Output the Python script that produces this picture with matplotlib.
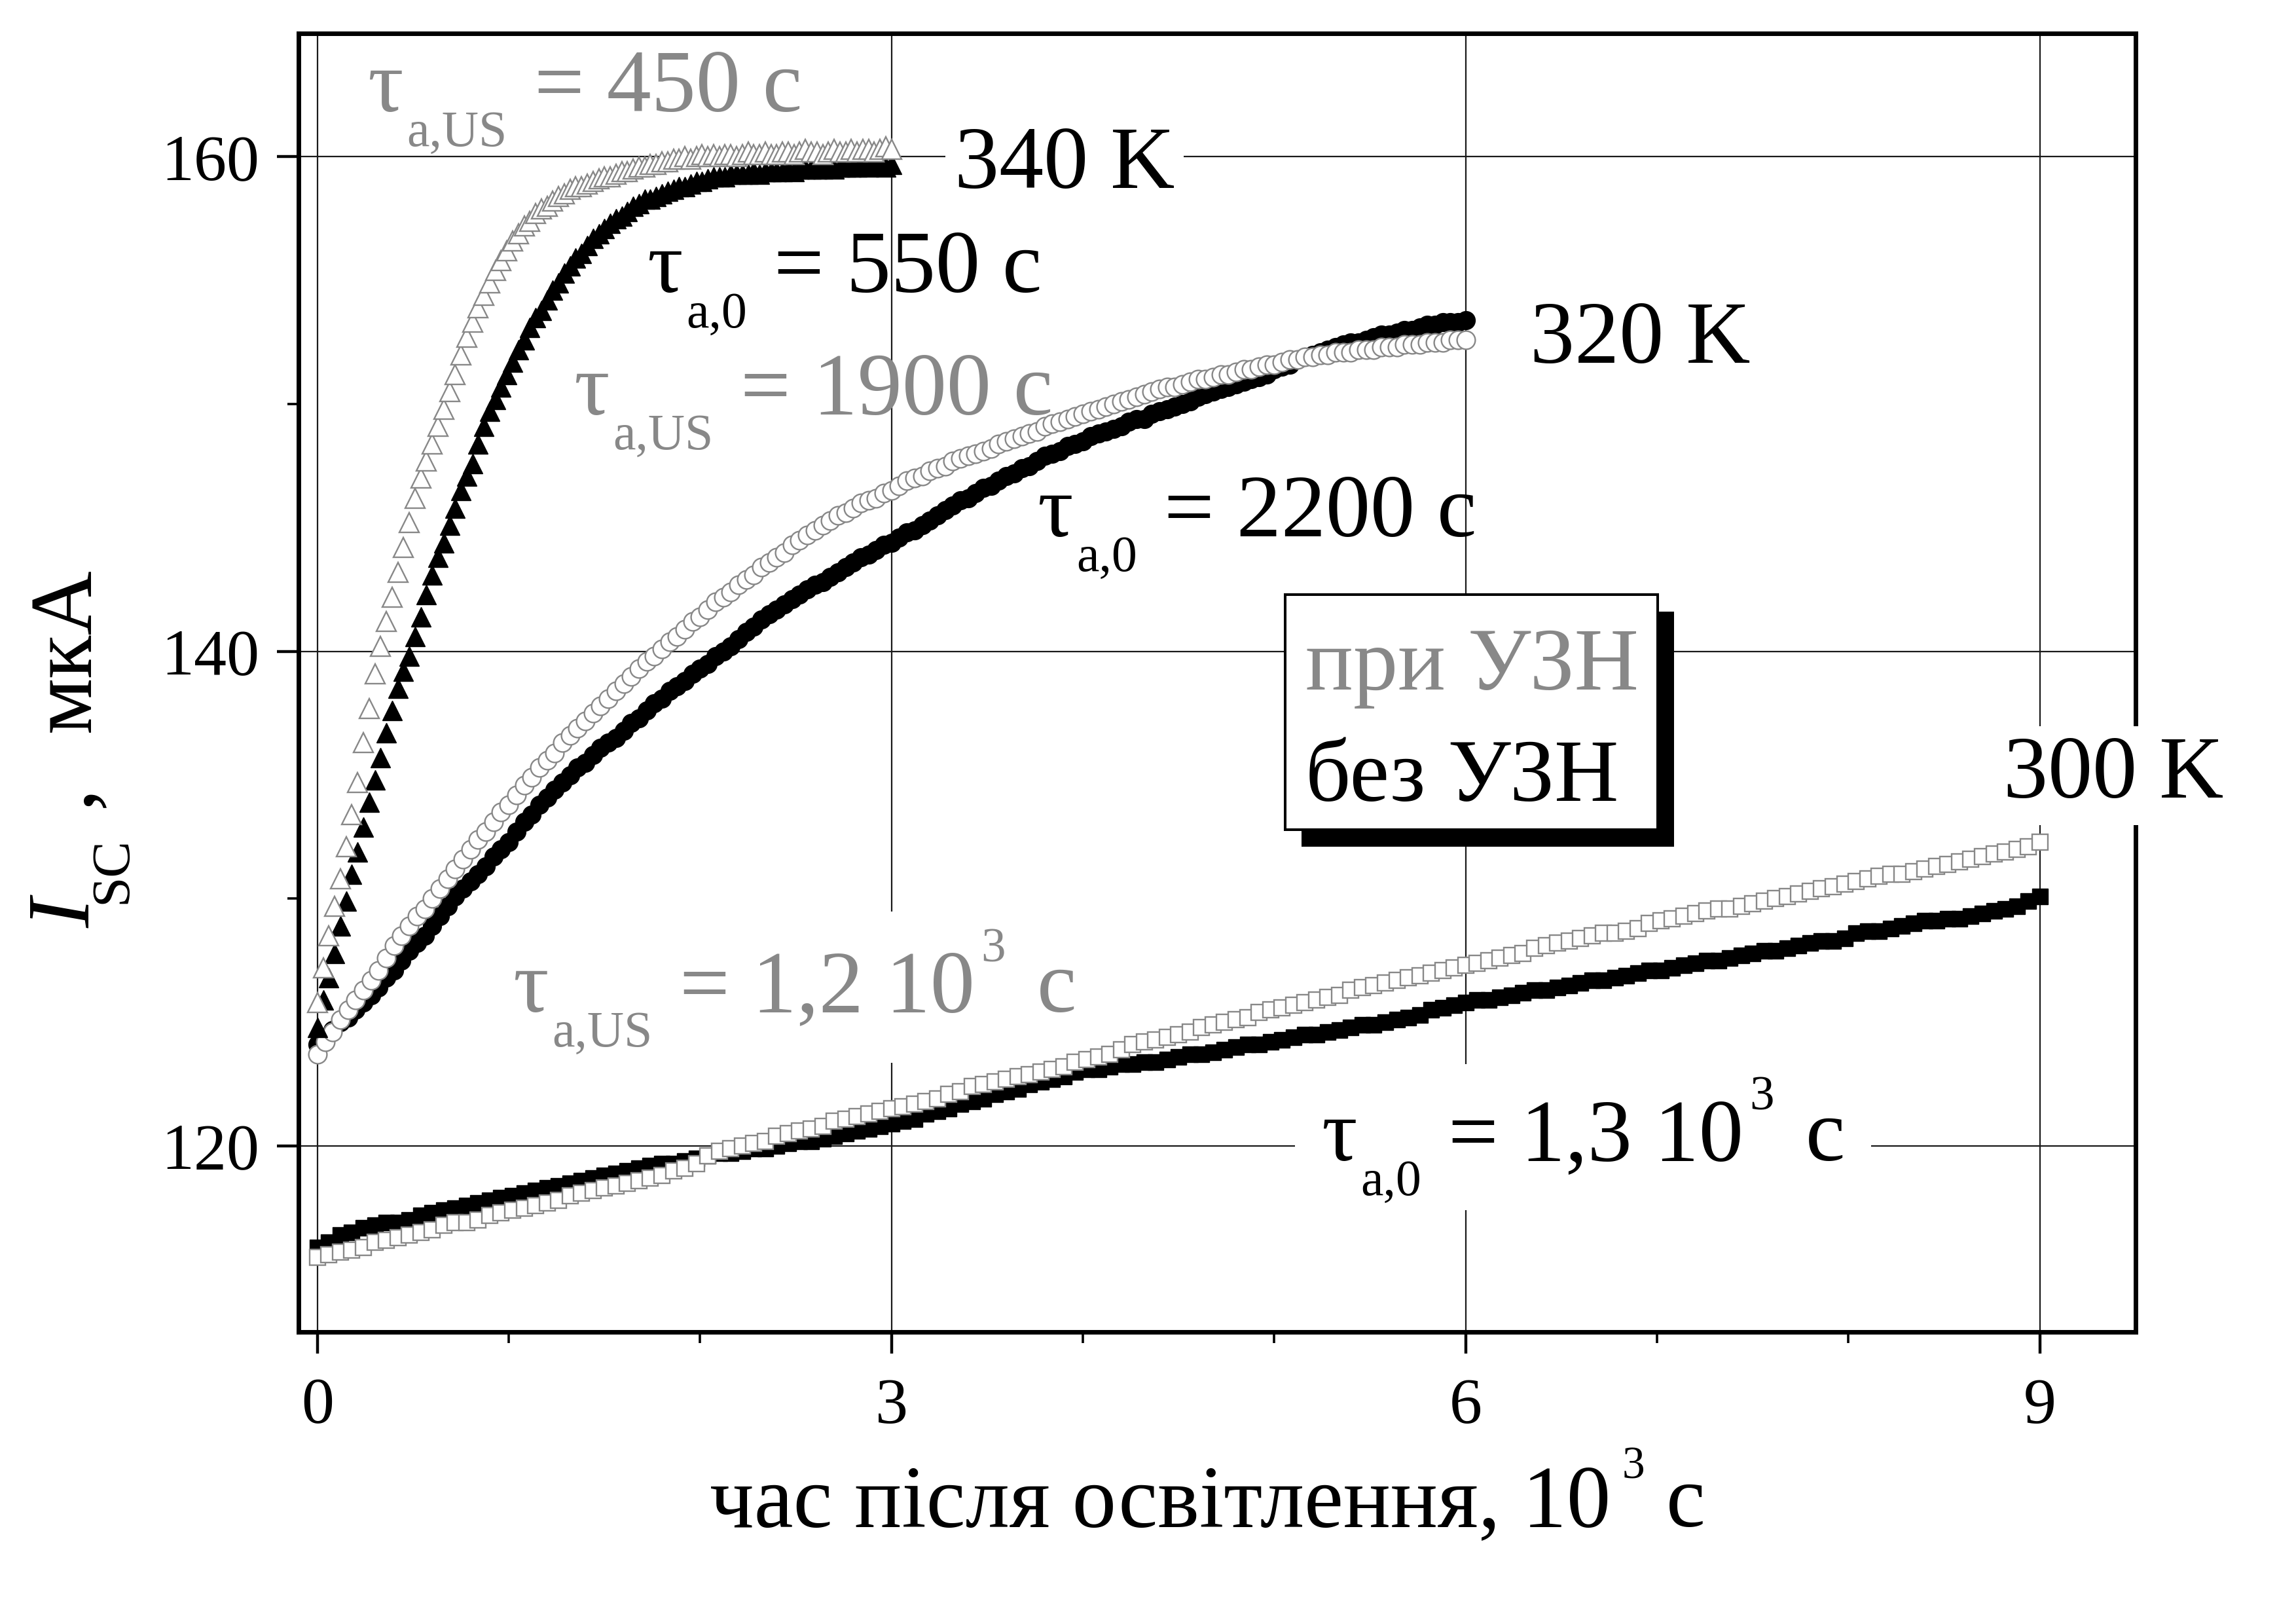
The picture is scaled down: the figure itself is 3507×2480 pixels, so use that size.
import numpy as np
import matplotlib
matplotlib.use("Agg")
import matplotlib.pyplot as plt
import matplotlib.transforms as mtransforms
from matplotlib.patches import Rectangle

# ---------------- data (I_SC, uA) ----------------
# 340 K, triangles (sampled every 0.03 x 10^3 s)
i340_us = [125.8, 127.2, 128.5, 129.7, 130.8, 132.1, 133.4, 134.7, 136.3, 137.7,
           139.1, 140.2, 141.2, 142.2, 143.2, 144.2, 145.2, 146.2, 147.0, 147.7,
           148.4, 149.1, 149.8, 150.5, 151.2, 152.0, 152.7, 153.3, 153.9, 154.4,
           154.9, 155.4, 155.8, 156.2, 156.6, 156.9, 157.2, 157.4, 157.7, 157.9,
           158.0, 158.2, 158.4, 158.5, 158.7, 158.8, 158.8, 158.9, 159.0, 159.1,
           159.2, 159.2, 159.3, 159.4, 159.4, 159.5, 159.6, 159.6, 159.7, 159.7,
           159.8, 159.8, 159.9, 159.9, 160.0, 159.9, 160.0, 160.1, 160.0, 160.1,
           160.0, 160.1, 160.1, 160.0, 160.1, 160.2, 160.1, 160.1, 160.2, 160.1,
           160.1, 160.2, 160.2, 160.1, 160.2, 160.3, 160.2, 160.2, 160.1, 160.2,
           160.3, 160.2, 160.2, 160.3, 160.2, 160.3, 160.3, 160.2, 160.3, 160.4,
           160.3]
i340_0 = [124.8, 125.9, 126.8, 127.8, 128.9, 129.9, 131.0, 131.9, 132.9, 133.9,
          134.8, 135.7, 136.7, 137.6, 138.5, 139.2, 139.8, 140.6, 141.4, 142.3,
          143.1, 143.8, 144.4, 145.1, 145.8, 146.5, 147.1, 147.6, 148.4, 149.1,
          149.7, 150.2, 150.7, 151.2, 151.7, 152.2, 152.6, 153.1, 153.5, 153.8,
          154.2, 154.6, 154.9, 155.3, 155.6, 155.9, 156.1, 156.4, 156.7, 156.9,
          157.1, 157.3, 157.5, 157.6, 157.8, 158.0, 158.1, 158.3, 158.3, 158.4,
          158.5, 158.6, 158.7, 158.8, 158.8, 158.9, 159.0, 159.0, 159.1, 159.2,
          159.2, 159.2, 159.3, 159.3, 159.3, 159.3, 159.4, 159.3, 159.4, 159.4,
          159.4, 159.4, 159.5, 159.4, 159.5, 159.5, 159.5, 159.5, 159.5, 159.6,
          159.5, 159.6, 159.6, 159.6, 159.6, 159.7, 159.6, 159.7, 159.7, 159.6,
          159.7]
# 320 K, circles (every 0.04 x 10^3 s)
i320_us = [123.7, 124.2, 124.6, 125.1, 125.5, 125.9, 126.3, 126.7, 127.1, 127.6,
           128.1, 128.5, 128.9, 129.3, 129.6, 130.0, 130.4, 130.8, 131.2, 131.6,
           132.0, 132.4, 132.7, 133.1, 133.5, 133.8, 134.2, 134.6, 134.9, 135.3,
           135.6, 135.9, 136.3, 136.6, 136.9, 137.2, 137.5, 137.8, 138.1, 138.4,
           138.7, 139.0, 139.3, 139.6, 139.8, 140.1, 140.4, 140.6, 140.9, 141.2,
           141.4, 141.7, 142.0, 142.2, 142.4, 142.7, 142.9, 143.1, 143.4, 143.6,
           143.8, 144.0, 144.3, 144.5, 144.7, 144.9, 145.1, 145.3, 145.5, 145.6,
           145.8, 146.0, 146.1, 146.2, 146.4, 146.5, 146.7, 146.9, 147.0, 147.1,
           147.3, 147.4, 147.5, 147.7, 147.8, 147.9, 148.0, 148.1, 148.2, 148.4,
           148.5, 148.6, 148.7, 148.8, 148.9, 149.1, 149.2, 149.3, 149.4, 149.5,
           149.6, 149.7, 149.8, 149.9, 150.0, 150.1, 150.2, 150.3, 150.4, 150.5,
           150.6, 150.7, 150.7, 150.8, 150.9, 151.0, 151.0, 151.1, 151.2, 151.2,
           151.3, 151.4, 151.4, 151.5, 151.6, 151.6, 151.7, 151.8, 151.8, 151.9,
           151.9, 152.0, 152.0, 152.1, 152.1, 152.1, 152.2, 152.2, 152.2, 152.3,
           152.3, 152.3, 152.4, 152.4, 152.4, 152.5, 152.5, 152.5, 152.6, 152.6,
           152.6]
i320_0 = [124.1, 124.4, 124.7, 125.0, 125.2, 125.5, 125.8, 126.1, 126.4, 126.8,
          127.1, 127.5, 127.9, 128.2, 128.5, 128.9, 129.3, 129.7, 130.1, 130.4,
          130.7, 131.0, 131.3, 131.7, 132.0, 132.3, 132.7, 133.1, 133.4, 133.8,
          134.1, 134.4, 134.7, 135.0, 135.3, 135.5, 135.8, 136.1, 136.3, 136.5,
          136.8, 137.1, 137.3, 137.6, 137.9, 138.1, 138.4, 138.6, 138.8, 139.1,
          139.3, 139.5, 139.8, 140.0, 140.2, 140.5, 140.8, 141.0, 141.3, 141.5,
          141.7, 141.9, 142.1, 142.3, 142.5, 142.7, 142.8, 143.0, 143.2, 143.4,
          143.6, 143.8, 143.9, 144.1, 144.3, 144.4, 144.6, 144.8, 144.9, 145.1,
          145.3, 145.5, 145.7, 145.9, 146.1, 146.2, 146.4, 146.6, 146.7, 146.9,
          147.1, 147.2, 147.4, 147.5, 147.7, 147.9, 148.0, 148.1, 148.3, 148.4,
          148.5, 148.7, 148.8, 148.9, 149.0, 149.1, 149.3, 149.4, 149.4, 149.6,
          149.7, 149.8, 149.9, 150.0, 150.1, 150.3, 150.4, 150.5, 150.6, 150.7,
          150.8, 150.9, 151.0, 151.1, 151.2, 151.4, 151.5, 151.6, 151.8, 151.9,
          152.0, 152.1, 152.2, 152.3, 152.4, 152.5, 152.5, 152.6, 152.7, 152.8,
          152.8, 152.9, 153.0, 153.0, 153.1, 153.2, 153.2, 153.3, 153.3, 153.3,
          153.4]
# 300 K, squares (every 0.06 x 10^3 s)
i300_us = [115.5, 115.6, 115.7, 115.8, 115.9, 116.1, 116.2, 116.3, 116.4, 116.5,
           116.6, 116.8, 116.9, 116.9, 117.0, 117.2, 117.3, 117.4, 117.5, 117.6,
           117.7, 117.8, 118.0, 118.1, 118.2, 118.3, 118.4, 118.5, 118.6, 118.7,
           118.8, 119.0, 119.1, 119.3, 119.6, 119.8, 119.9, 120.0, 120.1, 120.2,
           120.4, 120.5, 120.6, 120.7, 120.8, 121.0, 121.1, 121.2, 121.3, 121.4,
           121.5, 121.6, 121.7, 121.8, 121.9, 122.1, 122.2, 122.4, 122.5, 122.6,
           122.7, 122.8, 122.9, 123.0, 123.1, 123.2, 123.4, 123.5, 123.6, 123.7,
           123.9, 124.1, 124.2, 124.3, 124.4, 124.5, 124.6, 124.8, 124.9, 125.0,
           125.1, 125.2, 125.4, 125.5, 125.6, 125.7, 125.8, 125.9, 126.0, 126.1,
           126.3, 126.4, 126.5, 126.6, 126.7, 126.8, 126.9, 127.0, 127.1, 127.2,
           127.3, 127.4, 127.5, 127.6, 127.7, 127.8, 128.0, 128.1, 128.2, 128.3,
           128.4, 128.5, 128.6, 128.6, 128.7, 128.8, 129.0, 129.1, 129.2, 129.3,
           129.4, 129.5, 129.6, 129.6, 129.7, 129.8, 129.9, 130.0, 130.1, 130.2,
           130.3, 130.4, 130.5, 130.6, 130.7, 130.8, 130.9, 131.0, 131.0, 131.1,
           131.2, 131.3, 131.4, 131.5, 131.6, 131.7, 131.8, 131.9, 132.0, 132.1,
           132.3]
i300_0 = [115.9, 116.1, 116.4, 116.5, 116.7, 116.8, 116.9, 116.9, 117.0, 117.2,
          117.3, 117.4, 117.5, 117.6, 117.7, 117.8, 117.9, 118.0, 118.1, 118.2,
          118.3, 118.4, 118.5, 118.6, 118.7, 118.8, 118.9, 119.0, 119.1, 119.2,
          119.3, 119.3, 119.4, 119.5, 119.6, 119.7, 119.7, 119.8, 119.9, 119.9,
          120.0, 120.1, 120.2, 120.2, 120.3, 120.4, 120.5, 120.6, 120.7, 120.8,
          120.9, 121.0, 121.1, 121.3, 121.4, 121.5, 121.7, 121.8, 121.9, 122.1,
          122.2, 122.3, 122.5, 122.6, 122.7, 122.8, 123.0, 123.1, 123.1, 123.2,
          123.3, 123.3, 123.4, 123.4, 123.5, 123.6, 123.7, 123.7, 123.8, 123.9,
          124.0, 124.1, 124.1, 124.2, 124.3, 124.4, 124.5, 124.5, 124.6, 124.7,
          124.8, 124.9, 124.9, 125.0, 125.1, 125.2, 125.3, 125.5, 125.6, 125.7,
          125.8, 125.9, 125.9, 126.0, 126.1, 126.2, 126.3, 126.3, 126.4, 126.5,
          126.6, 126.7, 126.7, 126.8, 126.9, 127.0, 127.1, 127.1, 127.2, 127.3,
          127.4, 127.5, 127.5, 127.6, 127.7, 127.8, 127.9, 127.9, 128.0, 128.1,
          128.2, 128.3, 128.3, 128.4, 128.6, 128.7, 128.7, 128.8, 128.9, 129.0,
          129.1, 129.1, 129.2, 129.2, 129.3, 129.4, 129.5, 129.6, 129.7, 129.9,
          130.1]

# sampling times, 10^3 s (regular acquisition grid)
t340 = np.linspace(0.0, 3.0, len(i340_us))
t320 = np.linspace(0.0, 6.0, len(i320_us))
t300 = np.linspace(0.0, 9.0, len(i300_us))

x_major = [0, 3, 6, 9]
x_minor = [1, 2, 4, 5, 7, 8]
y_major = [120, 140, 160]
y_minor = [130, 150]

GRAY = '#888888'
BLACK = '#000000'

plt.rcParams['font.family'] = ['Liberation Serif', 'DejaVu Serif']

DPI = 100
fig = plt.figure(figsize=(35.07, 24.80), dpi=DPI)
ax = fig.add_axes([0.1300, 0.1798, 0.8001, 0.7998])
ax.set_xlim(-0.099, 9.50)
ax.set_ylim(112.48, 165.0)
ax.set_autoscale_on(False)

# grid / ticks / spines
ax.set_axisbelow(True)
ax.grid(True, which='major', color='#1a1a1a', lw=1.6)
ax.set_xticks(x_major)
ax.set_xticks(x_minor, minor=True)
ax.set_yticks(y_major)
ax.set_yticks(y_minor, minor=True)
ax.tick_params(which='major', direction='out', length=24, width=3.2, labelsize=72,
               color='black')
ax.tick_params(which='minor', direction='out', length=12, width=2.6, color='black')
ax.tick_params(axis='x', which='major', pad=26)
ax.tick_params(axis='y', which='major', pad=19)
for sp in ax.spines.values():
    sp.set_linewidth(5)

# data
def series(t, v, marker, ms, filled):
    if filled:
        ax.plot(t, v, ls='none', marker=marker, ms=ms, mfc=BLACK, mec=BLACK,
                mew=1.0, zorder=3)
    else:
        ax.plot(t, v, ls='none', marker=marker, ms=ms, mfc='white', mec=GRAY,
                mew=1.7, zorder=3)

series(t300, i300_0, 's', 17, True)
series(t300, i300_us, 's', 17, False)
series(t320, i320_0, 'o', 20, True)
series(t320, i320_us, 'o', 20, False)
series(t340, i340_0, '^', 22, True)
series(t340, i340_us, '^', 22, False)

renderer = fig.canvas.get_renderer()


def runs(x, y, parts, transform, rotation=0, zorder=4, box=None):
    """Draw consecutive text runs (text, size, baseline shift px, gap px, color, style)."""
    adv = 0.0
    arts = []
    for s, size, shift, gap, color, style in parts:
        adv += gap
        if rotation == 0:
            off = mtransforms.Affine2D().translate(adv, shift)
        else:
            off = mtransforms.Affine2D().translate(-shift, adv)
        t = ax.text(x, y, s, transform=transform + off, fontsize=size, color=color,
                    fontstyle=style, rotation=rotation, rotation_mode='anchor',
                    ha='left', va='baseline', zorder=zorder, clip_on=False)
        bb = t.get_window_extent(renderer)
        adv += bb.width if rotation == 0 else bb.height
        arts.append(t)
    if box is not None:
        bbs = [a.get_window_extent(renderer) for a in arts]
        x0 = min(b.x0 for b in bbs) - box[0]
        x1 = max(b.x1 for b in bbs) + box[1]
        y0 = min(b.y0 for b in bbs) - box[3]
        y1 = max(b.y1 for b in bbs) + box[2]
        rect = Rectangle((x0, y0), x1 - x0, y1 - y0,
                         transform=mtransforms.IdentityTransform(),
                         facecolor='white', edgecolor='none', zorder=1.5)
        ax.add_artist(rect)
    return arts


BIG = 98
SUB = 56
SUP = 54
DROP = -53
RAISE = 77


def tau_label(x, y, sub, rest, color, sup=None, box=None):
    parts = [('τ', BIG, 0, 0, color, 'normal'),
             (sub, SUB, DROP, 6, color, 'normal'),
             (rest, BIG, 0, 41, color, 'normal')]
    if sup is not None:
        parts += [(sup[0], SUP, RAISE, 9, color, 'normal'),
                  (sup[1], BIG, 0, 48, color, 'normal')]
    runs(x, y, parts, ax.transData, box=box)


tau_label(0.26, 161.83, 'a,US', '= 450 с', GRAY)
tau_label(1.72, 154.52, 'a,0', '= 550 с', BLACK)
tau_label(1.338, 149.59, 'a,US', '= 1900 с', GRAY)
tau_label(3.76, 144.66, 'a,0', '= 2200 с', BLACK)
tau_label(1.02, 125.43, 'a,US', '= 1,2 10', GRAY, sup=('3', 'с'), box=(40, 40, 25, 8))
tau_label(5.244, 119.42, 'a,0', '= 1,3 10', BLACK, sup=('3', 'с'), box=(40, 40, 18, 6))

# temperature labels
ax.text(3.328, 158.73, '340 K', fontsize=BIG, color=BLACK, ha='left', va='baseline',
        zorder=4, bbox=dict(boxstyle='square,pad=0.1', fc='white', ec='none'))
ax.text(6.335, 151.68, '320 K', fontsize=BIG, color=BLACK, ha='left', va='baseline',
        zorder=4)
ax.text(8.81, 134.1, '300 K', fontsize=BIG, color=BLACK, ha='left', va='baseline',
        zorder=6, clip_on=False,
        bbox=dict(boxstyle='square,pad=0.1', fc='white', ec='none'))

# legend box with shadow
bx0, bx1, by0, by1 = 5.056, 7.002, 132.79, 142.29
ax.add_patch(Rectangle((bx0 + 0.0855, by0 - 0.688), bx1 - bx0, by1 - by0,
                       facecolor='black', edgecolor='black', lw=0, zorder=1.6))
ax.add_patch(Rectangle((bx0, by0), bx1 - bx0, by1 - by0,
                       facecolor='white', edgecolor='black', lw=2.9, zorder=1.7))
ax.text(5.162, 138.45, 'при УЗН', fontsize=BIG, color=GRAY, ha='left', va='baseline',
        zorder=4)
ax.text(5.162, 133.95, 'без УЗН', fontsize=BIG, color=BLACK, ha='left', va='baseline',
        zorder=4)

# axis labels
runs(1084 / 3507, 1 - 2331 / 2480,
     [('час після освітлення, 10', 97, 0, 0, BLACK, 'normal'),
      ('3', 50, 73, 17, BLACK, 'normal'),
      ('с', 97, 0, 33, BLACK, 'normal')],
     fig.transFigure)

runs(137 / 3507, 1 - 1417 / 2480,
     [('I', 98, 0, 0, BLACK, 'italic'),
      ('SC', 60, -55, -8, BLACK, 'normal'),
      (',', 98, 0, 45, BLACK, 'normal'),
      ('мкА', 98, 0, 81, BLACK, 'normal')],
     fig.transFigure, rotation=90)

fig.savefig('out.png', dpi=DPI)
